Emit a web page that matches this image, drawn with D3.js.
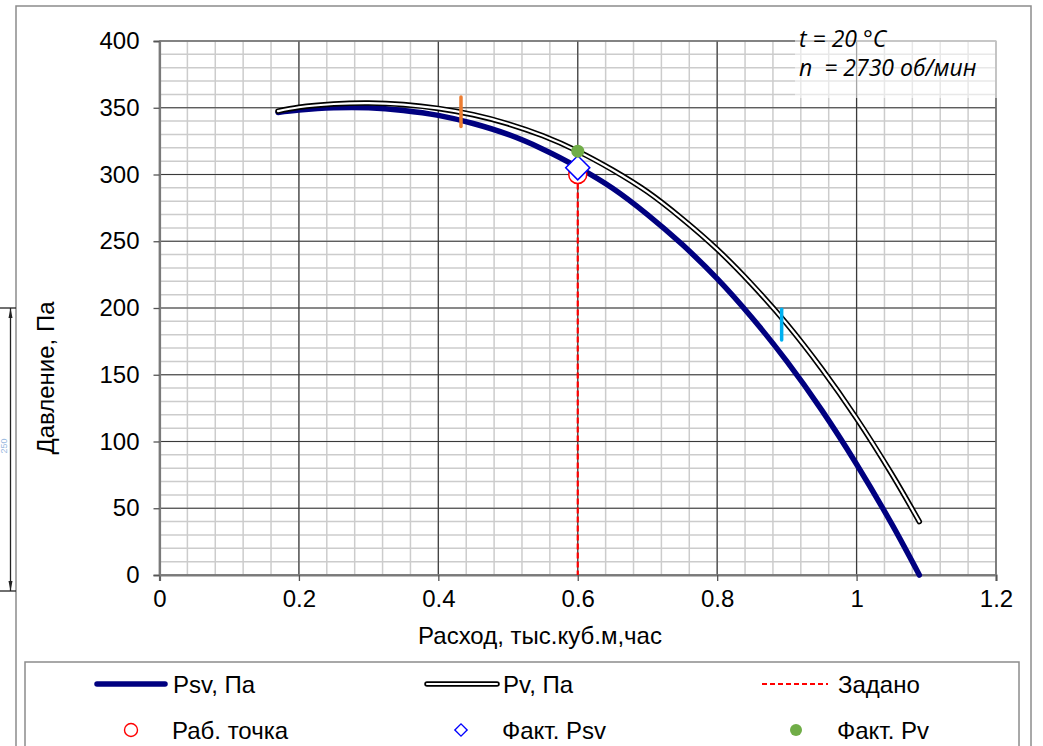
<!DOCTYPE html>
<html>
<head>
<meta charset="utf-8">
<script src="https://cdn.jsdelivr.net/npm/d3@7"></script>
<style>
  body { margin: 0; background: #fff; }
  svg { display: block; font-family: "Liberation Sans", Arial, sans-serif; }
</style>
</head>
<body>
<div id="chart"></div>
<script>
// flow, thousand m3/h
const flowQ = [0.17, 0.2, 0.25, 0.3, 0.35, 0.4, 0.45, 0.5, 0.55, 0.6, 0.65, 0.7, 0.75, 0.8, 0.85, 0.9, 0.95, 1.0, 1.05, 1.09];
// static pressure Psv, Pa
const psvValues = [346.5, 348.3, 350, 350, 348, 344.3, 338.2, 330, 319, 305.5, 289.7, 270, 247.5, 222, 192.7, 160, 123.5, 83, 38.6, 0];
// total pressure Pv, Pa
const pvValues = [347.5, 350.4, 352.8, 353.5, 352.4, 349.5, 344.8, 338, 329, 317.5, 303.4, 287, 266.8, 244, 217.6, 188, 154.5, 117.3, 76, 40];

const givenFlow = 0.6;
const workPoint = { q: 0.6, p: 300 };
const factPsv = { q: 0.6, p: 305 };
const factPv = { q: 0.6, p: 317.5 };

// short range marks on the curves
const rangeMarks = [
  { q: 0.4325, lo: 336, hi: 358, color: "#ed7d31" },
  { q: 0.8925, lo: 176, hi: 199, color: "#00b0f0" }
];

const xTicks = [0, 0.2, 0.4, 0.6, 0.8, 1, 1.2];
const yTicks = [0, 50, 100, 150, 200, 250, 300, 350, 400];
const xMinor = d3.range(0, 1.2001, 0.04);
const yMinor = d3.range(0, 400.1, 10);

const legendItems = [
  { label: "Psv, Па", type: "psv" },
  { label: "Pv, Па", type: "pv" },
  { label: "Задано", type: "given" },
  { label: "Раб. точка", type: "work" },
  { label: "Факт. Psv", type: "diamond" },
  { label: "Факт. Pv", type: "dot" }
];

const W = 1043, H = 746;
const svg = d3.select("#chart").append("svg").attr("width", W).attr("height", H);

// outer frame + left dimension artefact
svg.append("rect").attr("x", 16).attr("y", 6).attr("width", 1015).attr("height", 760)
  .attr("fill", "#fff").attr("stroke", "#8c8c8c").attr("stroke-width", 1.5);
const dim = svg.append("g").attr("stroke", "#222").attr("stroke-width", 1.3);
dim.append("line").attr("x1", 10.5).attr("x2", 10.5).attr("y1", 308).attr("y2", 591);
dim.append("line").attr("x1", 0).attr("x2", 16).attr("y1", 308).attr("y2", 308);
dim.append("line").attr("x1", 0).attr("x2", 16).attr("y1", 591).attr("y2", 591);
svg.append("path").attr("d", "M10.5,308 l-2,10 h4 z M10.5,591 l-2,-10 h4 z").attr("fill", "#222");
svg.append("text").attr("transform", "translate(7,446) rotate(-90)")
  .attr("text-anchor", "middle").attr("font-size", 9).attr("fill", "#7fa8d8").attr("opacity", 0.8).text("250");

const x = d3.scaleLinear().domain([0, 1.2]).range([159.5, 996]);
const y = d3.scaleLinear().domain([0, 400]).range([575, 41]);

const grid = svg.append("g");
grid.selectAll(".vminor").data(xMinor).enter().append("line")
  .attr("x1", d => x(d)).attr("x2", d => x(d)).attr("y1", y(0)).attr("y2", y(400))
  .attr("stroke", "#cccccc").attr("stroke-width", 1.5);
grid.selectAll(".hminor").data(yMinor).enter().append("line")
  .attr("x1", x(0)).attr("x2", x(1.2)).attr("y1", d => y(d)).attr("y2", d => y(d))
  .attr("stroke", "#cccccc").attr("stroke-width", 1.5);
grid.selectAll(".vmajor").data(xTicks).enter().append("line")
  .attr("x1", d => x(d)).attr("x2", d => x(d)).attr("y1", y(0)).attr("y2", y(400))
  .attr("stroke", "#3a3a3a").attr("stroke-width", 1.2);
grid.selectAll(".hmajor").data(yTicks).enter().append("line")
  .attr("x1", x(0)).attr("x2", x(1.2)).attr("y1", d => y(d)).attr("y2", d => y(d))
  .attr("stroke", "#3a3a3a").attr("stroke-width", 1.2);
// plot border
svg.append("rect").attr("x", x(0)).attr("y", y(400)).attr("width", x(1.2) - x(0)).attr("height", y(0) - y(400))
  .attr("fill", "none").attr("stroke", "#808080").attr("stroke-width", 1.2);

// axes
const xAxis = d3.axisBottom(x).tickValues(xTicks).tickSize(6).tickPadding(9).tickFormat(d => String(d));
const yAxis = d3.axisLeft(y).tickValues(yTicks).tickSize(6).tickPadding(14).tickFormat(d => String(d));
const gx = svg.append("g").attr("transform", `translate(0,${y(0)})`).call(xAxis);
const gy = svg.append("g").attr("transform", `translate(${x(0)},0)`).call(yAxis);
[gx, gy].forEach(g => {
  g.select(".domain").attr("stroke", "#7a7a7a").attr("stroke-width", 2.2);
  g.selectAll(".tick line").attr("stroke", "#555").attr("stroke-width", 1.3);
  g.selectAll("text").attr("font-size", 24).attr("fill", "#000")
    .attr("font-family", "'Liberation Sans', Arial, sans-serif");
});

svg.append("text").attr("x", 540).attr("y", 644).attr("text-anchor", "middle")
  .attr("font-size", 24).text("Расход, тыс.куб.м,час");
svg.append("text").attr("transform", "translate(53.5,378) rotate(-90)").attr("text-anchor", "middle")
  .attr("font-size", 24).text("Давление, Па");

// annotation
svg.append("rect").attr("x", 795).attr("y", 24).attr("width", 202).attr("height", 74)
  .attr("fill", "#fff").attr("opacity", 0.55);
const ann = svg.append("g").attr("font-family", "'Open Sans', sans-serif").attr("font-style", "italic")
  .attr("font-size", 23).attr("fill", "#000");
ann.append("text").attr("x", 799).attr("y", 47).text("t = 20 °C");
ann.append("text").attr("x", 799).attr("y", 76).attr("xml:space", "preserve").style("white-space", "pre")
  .text("n  = 2730 об/мин");

// curves
const line = d3.line().x(d => x(d[0])).y(d => y(d[1])).curve(d3.curveCatmullRom.alpha(0.5));
const psvData = flowQ.map((q, i) => [q, psvValues[i]]);
const pvData = flowQ.map((q, i) => [q, pvValues[i]]);

svg.append("path").datum(psvData).attr("d", line).attr("fill", "none")
  .attr("stroke", "#000080").attr("stroke-width", 5.5).attr("stroke-linecap", "round");
svg.append("path").datum(pvData).attr("d", line).attr("fill", "none")
  .attr("stroke", "#000").attr("stroke-width", 5.5).attr("stroke-linecap", "round");
svg.append("path").datum(pvData).attr("d", line).attr("fill", "none")
  .attr("stroke", "#fff").attr("stroke-width", 2.2).attr("stroke-linecap", "round");

// range marks
svg.selectAll(".rmark").data(rangeMarks).enter().append("line")
  .attr("x1", d => x(d.q)).attr("x2", d => x(d.q)).attr("y1", d => y(d.lo)).attr("y2", d => y(d.hi))
  .attr("stroke", d => d.color).attr("stroke-width", 3.5).attr("stroke-linecap", "round");

// given flow
svg.append("line").attr("x1", x(givenFlow)).attr("x2", x(givenFlow))
  .attr("y1", y(workPoint.p)).attr("y2", y(0))
  .attr("stroke", "#ff0000").attr("stroke-width", 2.2).attr("stroke-dasharray", "6,3");

// markers
const diamond = d3.symbol().type(d3.symbolSquare).size(290);
svg.append("circle").attr("cx", x(workPoint.q)).attr("cy", y(workPoint.p)).attr("r", 9)
  .attr("fill", "#fff").attr("stroke", "#ff0000").attr("stroke-width", 1.5);
svg.append("path").attr("d", diamond())
  .attr("transform", `translate(${x(factPsv.q)},${y(factPsv.p)}) rotate(45)`)
  .attr("fill", "#fff").attr("stroke", "#0000ff").attr("stroke-width", 1.5);
svg.append("circle").attr("cx", x(factPv.q)).attr("cy", y(factPv.p)).attr("r", 6.5)
  .attr("fill", "#70ad47");

// legend
svg.append("rect").attr("x", 25).attr("y", 662).attr("width", 994).attr("height", 100)
  .attr("fill", "#fff").attr("stroke", "#8c8c8c").attr("stroke-width", 1.5);
const colX = [97, 427, 762];
const rowY = [684, 730];
const lg = svg.append("g");
legendItems.forEach((it, i) => {
  const cx = colX[i % 3], cy = rowY[Math.floor(i / 3)];
  const g = lg.append("g");
  if (it.type === "psv") {
    g.append("line").attr("x1", cx).attr("x2", cx + 68).attr("y1", cy).attr("y2", cy)
      .attr("stroke", "#000080").attr("stroke-width", 5.5).attr("stroke-linecap", "round");
  } else if (it.type === "pv") {
    g.append("line").attr("x1", cx).attr("x2", cx + 70).attr("y1", cy).attr("y2", cy)
      .attr("stroke", "#000").attr("stroke-width", 5.5).attr("stroke-linecap", "round");
    g.append("line").attr("x1", cx).attr("x2", cx + 70).attr("y1", cy).attr("y2", cy)
      .attr("stroke", "#fff").attr("stroke-width", 2.2).attr("stroke-linecap", "round");
  } else if (it.type === "given") {
    g.append("line").attr("x1", cx).attr("x2", cx + 66).attr("y1", cy).attr("y2", cy)
      .attr("stroke", "#ff0000").attr("stroke-width", 2.2).attr("stroke-dasharray", "5,3");
  } else if (it.type === "work") {
    g.append("circle").attr("cx", cx + 34).attr("cy", cy).attr("r", 6.5)
      .attr("fill", "#fff").attr("stroke", "#ff0000").attr("stroke-width", 1.4);
  } else if (it.type === "diamond") {
    g.append("path").attr("d", d3.symbol().type(d3.symbolSquare).size(75)())
      .attr("transform", `translate(${cx + 34},${cy}) rotate(45)`)
      .attr("fill", "#fff").attr("stroke", "#0000ff").attr("stroke-width", 1.4);
  } else {
    g.append("circle").attr("cx", cx + 34).attr("cy", cy).attr("r", 6)
      .attr("fill", "#70ad47");
  }
  const tx = (i < 3) ? cx + 76 : cx + 75;
  g.append("text").attr("x", tx).attr("y", cy + 8.5).attr("font-size", 24).text(it.label);
});
</script>
</body>
</html>
